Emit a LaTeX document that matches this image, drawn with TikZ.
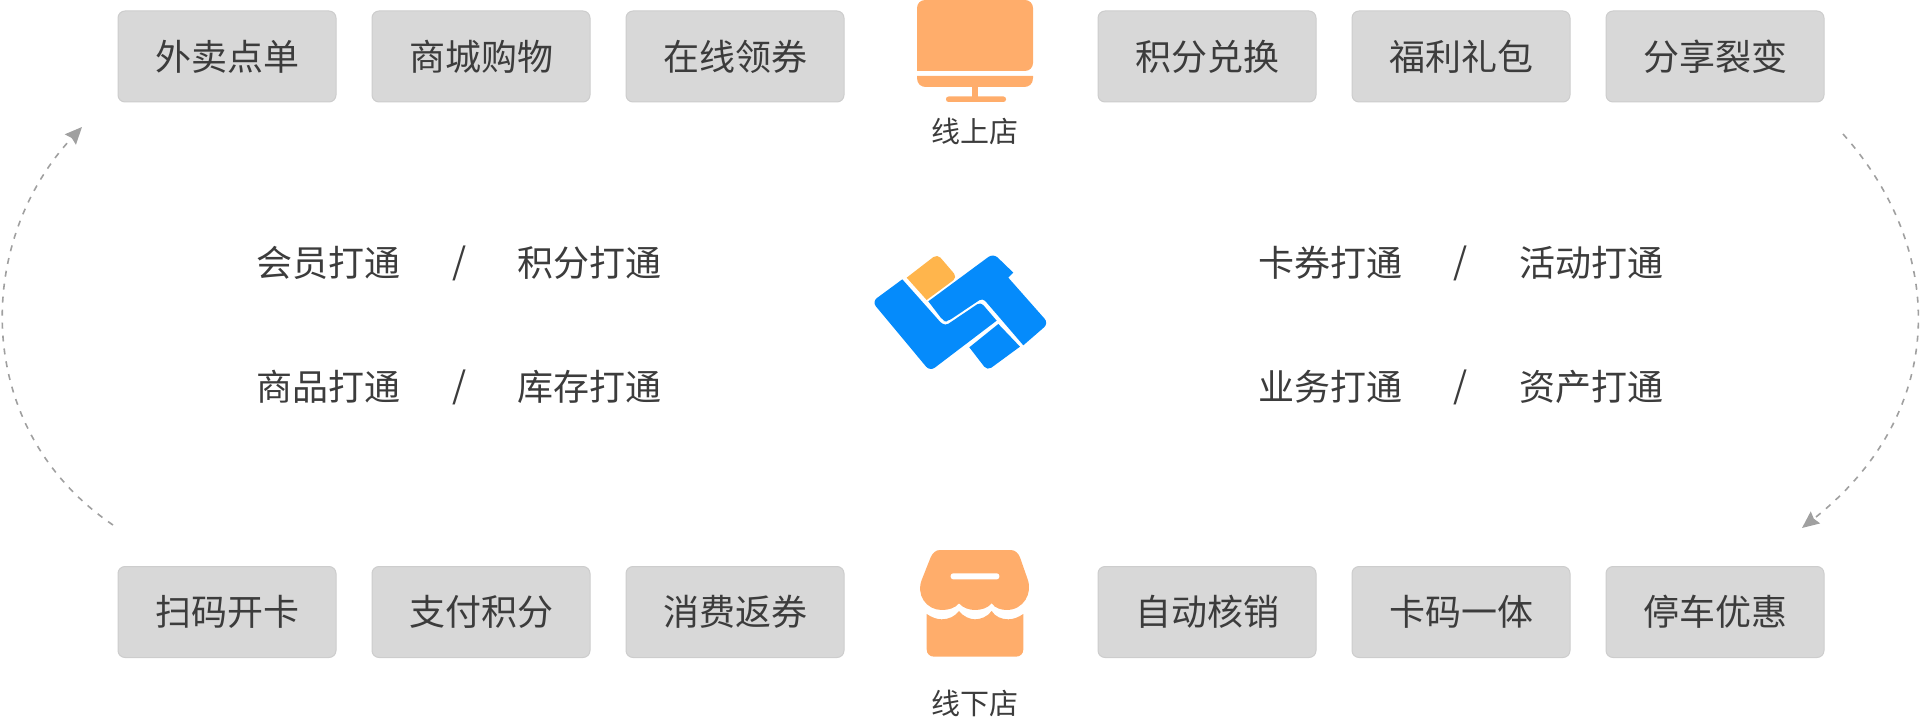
\documentclass[tikz,border=0pt]{standalone}
\usepackage{fontspec}
\setmainfont{Noto Sans CJK SC}
\definecolor{boxgray}{RGB}{216, 216, 216}
\definecolor{boxline}{RGB}{205, 205, 205}
\definecolor{textdark}{RGB}{60, 60, 60}
\definecolor{shoporange}{RGB}{255, 173, 107}
\definecolor{logoblue}{RGB}{5, 139, 251}
\definecolor{logoyellow}{RGB}{255, 181, 76}
\definecolor{flowgray}{RGB}{160, 160, 160}
\usetikzlibrary{arrows.meta, positioning}

\begin{document}
\begin{tikzpicture}[
    x=1pt, y=-1pt,
    node distance=36pt,
    itembox/.style={rectangle, rounded corners=7pt, minimum width=218pt,
                minimum height=91pt, inner sep=0pt, outer sep=0pt, align=center,
                font=\fontsize{36}{40}\selectfont,
                draw=boxline, line width=1pt, fill=boxgray, text=textdark},
    linktext/.style={inner sep=0pt, font=\fontsize{36}{40}\selectfont, text=textdark},
    storelabel/.style={inner sep=0pt, font=\fontsize{29}{34}\selectfont, text=textdark},
    flow/.style={-{Stealth[length=17pt, width=15pt, inset=2pt]}, color=flowgray, line width=1.6pt,
                dash pattern=on 6pt off 7pt}
  ]
    \useasboundingbox (0,0) rectangle (1920,722);

    % Online row
    \node[itembox] (waimai) at (227,56.5) {外卖点单};
    \node[itembox, right=of waimai] (shangcheng) {商城购物};
    \node[itembox, right=of shangcheng] (lingquan) {在线领券};
    \node[itembox] (duihuan) at (1207,56.5) {积分兑换};
    \node[itembox, right=of duihuan] (libao) {福利礼包};
    \node[itembox, right=of libao] (fenxiang) {分享裂变};

    % Offline row
    \node[itembox] (kaika) at (227,612) {扫码开卡};
    \node[itembox, right=of kaika] (zhifu) {支付积分};
    \node[itembox, right=of zhifu] (fanquan) {消费返券};
    \node[itembox] (hexiao) at (1207,612) {自动核销};
    \node[itembox, right=of hexiao] (kama) {卡码一体};
    \node[itembox, right=of kama] (tingche) {停车优惠};

    % Left links
    \node[linktext] (huiyuan) at (328,263) {会员打通};
    \node[linktext] (slashA) at (460,263) {/};
    \node[linktext] (jifen) at (589,263) {积分打通};
    \node[linktext] (shangpin) at (328,387) {商品打通};
    \node[linktext] (slashB) at (460,387) {/};
    \node[linktext] (kucun) at (589,387) {库存打通};

    % Right links
    \node[linktext] (kaquan) at (1330,263) {卡券打通};
    \node[linktext] (slashC) at (1461,263) {/};
    \node[linktext] (huodong) at (1591,263) {活动打通};
    \node[linktext] (yewu) at (1330,387) {业务打通};
    \node[linktext] (slashD) at (1461,387) {/};
    \node[linktext] (zichan) at (1591,387) {资产打通};

    % Monitor
    \fill[shoporange, rounded corners=8pt] (917,71) -- (917,0) -- (1033,0) -- (1033,71) [sharp corners] -- cycle;
    \fill[shoporange] (917,76) -- (1033,76) -- (1033,78) .. controls (1033,84) and (1029,87) .. (1024,87)
        -- (926,87) .. controls (921,87) and (917,84) .. (917,78) -- cycle;
    \fill[shoporange] (972,87) rectangle (978,97);
    \fill[shoporange, rounded corners=2.5pt] (946,96.5) rectangle (1006,102);
    \node[storelabel] (online) at (975,131) {线上店};

    % Shop
    \begin{scope}[shift={(890,540)}, x=0.3333pt, y=-0.3333pt]
      \fill[shoporange] (150,30) -- (362,30) .. controls (376,30) and (385,40) .. (390,52)
          -- (412,115) .. controls (430,160) and (400,210) .. (350,210)
          .. controls (335,210) and (315,205) .. (305,190)
          .. controls (293,205) and (272,210) .. (255,210)
          .. controls (240,210) and (220,205) .. (207,190)
          .. controls (195,205) and (175,210) .. (155,210)
          .. controls (110,210) and (75,165) .. (97,115)
          -- (122,52) .. controls (128,38) and (138,30) .. (150,30) -- cycle;
      \fill[white, rounded corners=2.5pt] (182,100) rectangle (328,118);
      \fill[shoporange] (110,222) .. controls (125,232) and (140,238) .. (155,238)
          .. controls (175,238) and (195,230) .. (207,213)
          .. controls (220,230) and (240,238) .. (255,238)
          .. controls (272,238) and (293,230) .. (305,213)
          .. controls (315,230) and (335,238) .. (355,238)
          .. controls (370,238) and (385,232) .. (400,222)
          -- (400,328) .. controls (400,342) and (390,350) .. (378,350)
          -- (132,350) .. controls (120,350) and (110,342) .. (110,328) -- cycle;
    \end{scope}
    \node[storelabel] (offline) at (975,703) {线下店};

    % Logo
    \begin{scope}[shift={(860,240)}, x=0.3333pt, y=-0.3333pt]
      \fill[logoyellow] (140,113) [rounded corners=5pt] -- (232,42) -- (292,112) [sharp corners] -- (200,180) -- cycle;
      \fill[logoblue] (205,184) [rounded corners=6pt] -- (400,40) [sharp corners] -- (460,98) -- (445,113)
          [rounded corners=6pt] -- (566,250) [sharp corners] -- (490,316) -- (412,225) [rounded corners=4pt]
          -- (368,174) -- (262,245) -- (250,243) [sharp corners] -- cycle;
      \fill[logoblue] (127,118) -- (240,245) [rounded corners=4pt] -- (255,258) -- (362,186) [sharp corners] -- (410,242)
          [rounded corners=6pt] -- (210,394) -- (36,185) [sharp corners] -- cycle;
      \fill[logoblue] (415,252) -- (480,320) [rounded corners=5pt] -- (382,392) [sharp corners] -- (328,322) -- cycle;
    \end{scope}

    % Arrows
    \coordinate (leftstart) at (113,525);
    \coordinate (lefttip) at (82,127);
    \coordinate (rightstart) at (1843,134);
    \coordinate (righttip) at (1802,528);
    \draw[flow] (leftstart) .. controls (-27,430) and (-27,244) .. (lefttip);
    \draw[flow] (rightstart) .. controls (1948,252) and (1948,413) .. (righttip);
  \end{tikzpicture}
\end{document}
